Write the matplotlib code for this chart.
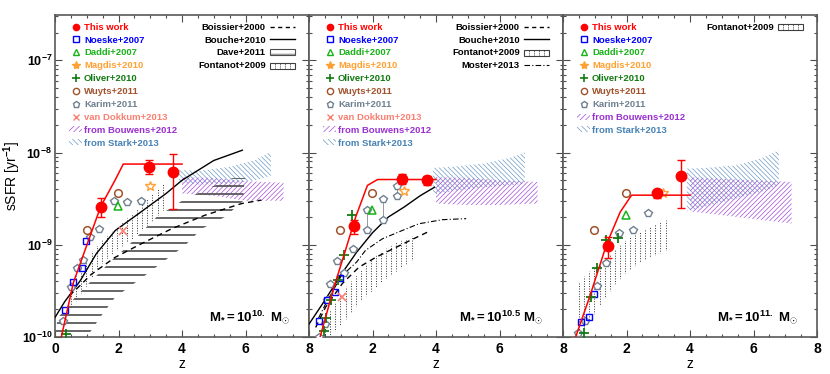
import numpy as np
import matplotlib
matplotlib.use('Agg')
import matplotlib.pyplot as plt
from matplotlib.lines import Line2D
from matplotlib.patches import Patch, Rectangle, Polygon
from matplotlib.legend_handler import HandlerBase
from matplotlib.ticker import MultipleLocator, LogLocator, NullFormatter, FuncFormatter

plt.rcParams['font.family'] = ['Liberation Sans', 'DejaVu Sans']
plt.rcParams['font.weight'] = 'bold'
plt.rcParams['mathtext.fontset'] = 'custom'
plt.rcParams['mathtext.rm'] = 'Liberation Sans:bold'
plt.rcParams['mathtext.bf'] = 'Liberation Sans:bold'
plt.rcParams['mathtext.it'] = 'Liberation Sans:bold'
plt.rcParams['hatch.linewidth'] = 0.5

# ---- data (one list per panel: 1e10, 1e10.5, 1e11 Msun) ----
work_z = [[1.44, 2.96, 3.71], [1.42, 2.94, 3.71], [1.43, 2.95, 3.71]]
work_s = [[2.6e-9, 7.0e-9, 6.1e-9], [1.6e-9, 5.2e-9, 5.0e-9], [9.8e-10, 3.6e-9, 5.5e-9]]
work_lo = [[2.0e-9, 5.9e-9, 2.46e-9], [1.3e-9, 4.6e-9, 4.4e-9], [7.2e-10, 3.25e-9, 2.5e-9]]
work_hi = [[3.2e-9, 8.4e-9, 9.6e-9], [1.85e-9, 5.9e-9, 5.6e-9], [1.2e-9, 3.9e-9, 8.4e-9]]

model_z = [[0.2, 0.58, 1.05, 1.44, 1.89, 2.15, 4.0],
           [0.35, 0.79, 1.10, 1.47, 1.84, 2.16, 4.0],
           [0.4, 0.85, 1.38, 1.8, 2.16, 4.0]]
model_s = [[1e-10, 3.9e-10, 1.1e-9, 2.6e-9, 5.0e-9, 7.5e-9, 7.5e-9],
           [1e-10, 3.5e-10, 7.7e-10, 2.0e-9, 4.4e-9, 5.1e-9, 5.1e-9],
           [1e-10, 2.8e-10, 1.03e-9, 2.26e-9, 3.45e-9, 3.45e-9]]

noeske_z = [[0.315, 0.58, 0.84, 0.976], [0.315, 0.556, 0.819, 0.976], [0.57, 0.83, 0.97]]
noeske_s = [[1.97e-10, 3.9e-10, 5.6e-10, 1.11e-9], [1.5e-10, 2.5e-10, 3.1e-10, 4.4e-10],
            [1.44e-10, 1.66e-10, 2.9e-10]]
daddi_z = [[1.99], [1.99], [1.98]]
daddi_s = [[2.65e-9], [2.36e-9], [2.08e-9]]
magdis_z = [[2.99], [2.99], [3.16]]
magdis_s = [[4.3e-9], [3.8e-9], [3.6e-9]]
oliver_z = [[0.35], [0.47, 0.52, 0.68, 0.92, 1.10, 1.34], [0.66, 0.89, 1.08, 1.34, 1.74]]
oliver_s = [[1.08e-10], [1.17e-10, 1.6e-10, 2.5e-10, 4.2e-10, 7.7e-10, 2.1e-9],
            [1.1e-10, 2.7e-10, 5.6e-10, 1.14e-9, 1.19e-9]]
wuyts_z = [[0.997, 1.99], [0.976, 1.99], [0.99, 1.98]]
wuyts_s = [[1.43e-9, 3.67e-9], [1.46e-9, 3.67e-9], [1.43e-9, 3.67e-9]]
karim_z = [[0.25, 0.49, 0.68, 0.89, 1.10, 1.40, 1.86, 2.26, 2.70],
           [0.3, 0.5, 0.56, 0.66, 0.87, 1.11, 1.38, 1.82, 1.82, 2.32, 2.32, 2.78, 2.78],
           [0.46, 0.70, 1.08, 1.35, 1.77, 2.22, 2.69]]
karim_s = [[1.5e-10, 3.47e-10, 5.6e-10, 6.9e-10, 1.21e-9, 1.49e-9, 2.98e-9, 2.88e-9, 2.98e-9],
           [1.0e-10, 1.4e-10, 2.5e-10, 3.8e-10, 6.6e-10, 5.0e-10, 9.0e-10, 1.43e-9, 2.4e-9,
            1.87e-9, 3.1e-9, 3.4e-9, 4.35e-9],
           [1.1e-10, 1.5e-10, 3.6e-10, 6.3e-10, 1.34e-9, 1.43e-9, 2.2e-9]]
vdokkum_z = [[2.15], [1.05], []]
vdokkum_s = [[1.4e-9], [2.7e-10], []]

bouche_z = [[0, 0.3, 0.8, 1.3, 1.9, 2.7, 3.5, 4.0, 5.0, 5.9],
            [0, 0.5, 1.0, 1.5, 2.0, 2.5, 3.0, 3.5, 3.95]]
bouche_s = [[1.63e-10, 2.4e-10, 4.1e-10, 8.0e-10, 1.43e-9, 2.26e-9, 3.6e-9, 5.0e-9, 8.2e-9, 1.06e-8],
            [1.38e-10, 2.5e-10, 4.7e-10, 8.3e-10, 1.35e-9, 2.0e-9, 2.57e-9, 3.4e-9, 4.2e-9]]
boissier_z = [[0.45, 0.63, 1.15, 1.89, 2.73, 3.67, 4.72, 5.88, 6.5],
              [0.21, 0.52, 1.05, 1.57, 2.1, 3.15, 3.73]]
boissier_s = [[2.8e-10, 3.2e-10, 4.8e-10, 7.3e-10, 1.03e-9, 1.49e-9, 2.09e-9, 2.8e-9, 3.05e-9],
              [1.27e-10, 2.1e-10, 3.8e-10, 5.7e-10, 7.3e-10, 1.1e-9, 1.37e-9]]
moster_z = [0.3, 0.5, 1.0, 1.5, 1.78, 2.31, 2.94, 3.46, 4.2, 4.95]
moster_s = [1.6e-10, 2.2e-10, 4.5e-10, 6.5e-10, 8.7e-10, 1.16e-9, 1.43e-9, 1.69e-9, 1.87e-9, 1.92e-9]

dave_s = [1.0e-10, 1.12e-10, 1.63e-10, 2.69e-10, 4.63e-10, 6.75e-10, 9.8e-10, 1.49e-9, 2.0e-9,
          3.0e-9, 4.2e-9, 5.3e-9]
dave_zlo = [0.0, 0.0, 0.1, 0.63, 1.31, 1.78, 2.31, 2.83, 3.2, 4.0, 4.9, 5.6]
dave_zhi = [1.0, 1.10, 1.42, 1.89, 2.83, 3.46, 4.09, 4.62, 5.35, 5.93, 5.95, 6.0]

fontanot_z = [[0.5, 1.0, 1.5, 2.0, 2.5, 3.0, 3.5],
              [0.4, 0.8, 1.2, 1.6, 2.0, 2.4, 2.8, 3.35],
              [0.4, 0.8, 1.2, 1.6, 2.0, 2.5, 3.0, 3.37]]
fontanot_lo = [[2.0e-10, 3.55e-10, 6.3e-10, 8.9e-10, 1.2e-9, 1.7e-9, 2.5e-9],
               [8.9e-11, 1.12e-10, 1.58e-10, 2.4e-10, 3.16e-10, 4.17e-10, 5.25e-10, 7.1e-10],
               [8.9e-11, 1.41e-10, 2.24e-10, 3.55e-10, 5.0e-10, 6.6e-10, 7.9e-10, 8.9e-10]]
fontanot_hi = [[3.55e-10, 7.1e-10, 1.12e-9, 1.58e-9, 2.24e-9, 3.3e-9, 4.8e-9],
               [1.41e-10, 2.24e-10, 3.55e-10, 5.0e-10, 7.1e-10, 8.9e-10, 1.07e-9, 1.26e-9],
               [3.55e-10, 5.0e-10, 6.3e-10, 8.5e-10, 1.12e-9, 1.41e-9, 1.7e-9, 1.9e-9]]

bouwens_z = [4.0, 5.0, 6.0, 7.2]
bouwens_lo = [[3.6e-9, 3.4e-9, 3.0e-9, 3.0e-9], [2.8e-9, 2.7e-9, 2.7e-9, 2.8e-9],
              [2.3e-9, 2.1e-9, 1.9e-9, 1.7e-9]]
bouwens_hi = [[5.4e-9, 5.3e-9, 4.9e-9, 4.7e-9], [5.4e-9, 5.3e-9, 5.0e-9, 4.8e-9],
              [5.4e-9, 5.2e-9, 5.0e-9, 4.8e-9]]
stark_z = [3.9, 4.5, 5.5, 6.3, 6.8]
stark_lo = [[4.8e-9, 4.5e-9, 4.6e-9, 5.0e-9, 5.6e-9], [3.5e-9, 3.8e-9, 4.2e-9, 4.4e-9, 4.6e-9],
            [2.3e-9, 2.6e-9, 3.2e-9, 3.8e-9, 4.4e-9]]
stark_hi = [[6.5e-9, 6.3e-9, 7.0e-9, 8.3e-9, 1.02e-8], [6.8e-9, 7.0e-9, 7.6e-9, 8.7e-9, 1.0e-8],
            [6.7e-9, 6.8e-9, 7.3e-9, 8.8e-9, 1.06e-8]]

mass_labels = [r'$\mathbf{M_{*}=10^{10.}\ M_{\odot}}$',
               r'$\mathbf{M_{*}=10^{10.5}\ M_{\odot}}$',
               r'$\mathbf{M_{*}=10^{11.}\ M_{\odot}}$']

c_work = 'red'
c_noeske = 'blue'
c_daddi = '#19b219'
c_magdis = '#ffa033'
c_oliver = '#127a12'
c_wuyts = '#a0522d'
c_karim = '#708090'
c_vd = '#fa8072'
c_bouw = '#9b30d0'
c_stark = '#4682b4'


class DotBox(HandlerBase):
    def create_artists(self, legend, orig, xd, yd, w, h, fontsize, trans):
        arts = [Rectangle((xd, yd), w, h, fc='white', ec='0.25', lw=0.8, transform=trans)]
        for f in (0.2, 0.4, 0.6, 0.8):
            arts.append(Line2D([xd + f * w] * 2, [yd, yd + h], ls=(0, (1, 1.2)), lw=0.7,
                               color='0.2', transform=trans))
        return arts


fig = plt.figure(figsize=(8.3, 3.74), dpi=100)
lefts = [55, 309, 563]

for i in range(3):
    ax = fig.add_axes([lefts[i] / 830, 37 / 374, 254 / 830, 322 / 374])
    ax.set_yscale('log')
    ax.set_xlim(0, 8)
    ax.set_ylim(1e-10, 3.1e-7)

    # shaded observational ranges
    ax.fill_between(stark_z, stark_lo[i], stark_hi[i], facecolor='none', edgecolor='#6f9cc4',
                    hatch='\\\\\\\\\\\\\\', lw=0, zorder=1)
    ax.fill_between(bouwens_z, bouwens_lo[i], bouwens_hi[i], facecolor='none', edgecolor='#a44fd8',
                    hatch='///////', lw=0, zorder=1)

    # Fontanot+2009 : dotted vertical lines
    fz = fontanot_z[i]
    verts = list(zip(fz, fontanot_lo[i])) + list(zip(fz[::-1], fontanot_hi[i][::-1]))
    poly = Polygon(verts, closed=True, fc='none', ec='none', transform=ax.transData)
    ax.add_patch(poly)
    vl = ax.vlines(np.arange(0.03, 8, 0.16), 1e-11, 1e-6, colors='0.2',
                   linestyles=[(0, (1, 1.6))], lw=0.7, zorder=2)
    vl.set_clip_path(poly)

    if i == 0:
        # Dave+2011 : horizontal lines
        verts = list(zip(dave_zlo, dave_s)) + list(zip(dave_zhi[::-1], dave_s[::-1]))
        dpoly = Polygon(verts, closed=True, fc='none', ec='none', transform=ax.transData)
        ax.add_patch(dpoly)
        hl = ax.hlines(10 ** np.arange(-10.02, -8.2, 0.087), 0, 8, colors='0.35', lw=1.3, zorder=2)
        hl.set_clip_path(dpoly)

    if i < 2:
        ax.plot(bouche_z[i], bouche_s[i], color='k', lw=1, zorder=3)
        ax.plot(boissier_z[i], boissier_s[i], color='k', lw=1, ls=(0, (4, 3)), zorder=3)
    if i == 1:
        ax.plot(moster_z, moster_s, color='k', lw=0.8, ls=(0, (5, 2, 1, 2)), zorder=3)

    # literature points
    kz = np.array(karim_z[i])
    ks = np.array(karim_s[i])
    for zz in np.unique(kz):
        sel = kz == zz
        if sel.sum() > 1:
            ax.plot([zz, zz], [ks[sel].min(), ks[sel].max()], color='0.6', lw=0.7, zorder=3)
    ax.plot(kz, ks, ls='none', marker='p', mfc='white', mec=c_karim, ms=5.5, mew=1, zorder=4)
    ax.plot(noeske_z[i], noeske_s[i], ls='none', marker='s', mfc='none', mec=c_noeske,
            ms=5, mew=1, zorder=4)
    ax.plot(daddi_z[i], daddi_s[i], ls='none', marker='^', mfc='none', mec=c_daddi,
            ms=5.5, mew=1.1, zorder=4)
    ax.plot(magdis_z[i], magdis_s[i], ls='none', marker='*', mfc='none', mec=c_magdis,
            ms=7, mew=1, zorder=4)
    ax.plot(oliver_z[i], oliver_s[i], ls='none', marker='+', color=c_oliver,
            ms=7, mew=1.3, zorder=4)
    ax.plot(wuyts_z[i], wuyts_s[i], ls='none', marker='o', mfc='none', mec=c_wuyts,
            ms=5.5, mew=1.1, zorder=4)
    if vdokkum_z[i]:
        ax.plot(vdokkum_z[i], vdokkum_s[i], ls='none', marker='x', color=c_vd,
                ms=6, mew=1.2, zorder=4)

    # this work
    ax.plot(model_z[i], model_s[i], color=c_work, lw=1.1, zorder=5)
    ws = np.array(work_s[i])
    yerr = [ws - np.array(work_lo[i]), np.array(work_hi[i]) - ws]
    ax.errorbar(work_z[i], ws, yerr=yerr, fmt='o', color=c_work, ms=7.5, capsize=3.2,
                elinewidth=1, capthick=1, zorder=6)

    ax.text(0.925, 0.062, mass_labels[i], transform=ax.transAxes, ha='right', va='center',
            fontsize=9.5)

    # axes styling
    ax.xaxis.set_major_locator(MultipleLocator(2))
    ax.xaxis.set_minor_locator(MultipleLocator(0.5))
    if i > 0:
        ax.xaxis.set_major_formatter(FuncFormatter(lambda v, p: '' if v == 0 else '%d' % v))
    ax.yaxis.set_major_locator(LogLocator(base=10))
    ax.yaxis.set_minor_locator(LogLocator(base=10, subs=np.arange(2, 10)))
    ax.yaxis.set_minor_formatter(NullFormatter())
    ax.tick_params(which='both', direction='in', top=True, right=True, width=0.8,
                   colors='0.3', labelcolor='k')
    ax.tick_params(axis='x', labelsize=10)
    ax.tick_params(axis='y', labelsize=9, pad=2)
    ax.tick_params(which='major', length=5)
    ax.tick_params(which='minor', length=2.5)
    if i > 0:
        ax.tick_params(labelleft=False)
    for sp in ax.spines.values():
        sp.set_color('0.35')
        sp.set_linewidth(1.2)
    ax.set_xlabel('z', fontsize=10)
    ax.xaxis.set_label_coords(0.5, -0.063)
    if i == 0:
        ax.set_ylabel('sSFR [yr$^{-1}$]', fontsize=10)
        ax.yaxis.set_label_coords(-0.125, 0.5)

    # left legend
    handles = [Line2D([], [], ls='none', marker='o', color=c_work, ms=4.5),
               Line2D([], [], ls='none', marker='s', mfc='none', mec=c_noeske, ms=4, mew=1),
               Line2D([], [], ls='none', marker='^', mfc='none', mec=c_daddi, ms=4.5, mew=1),
               Line2D([], [], ls='none', marker='*', color=c_magdis, ms=6),
               Line2D([], [], ls='none', marker='+', color=c_oliver, ms=6, mew=1.2),
               Line2D([], [], ls='none', marker='o', mfc='none', mec=c_wuyts, ms=4.5, mew=1),
               Line2D([], [], ls='none', marker='p', mfc='none', mec=c_karim, ms=4.5, mew=1)]
    labels = ['This work', 'Noeske+2007', 'Daddi+2007', 'Magdis+2010', 'Oliver+2010',
              'Wuyts+2011', 'Karim+2011']
    colors = [c_work, c_noeske, c_daddi, c_magdis, c_oliver, c_wuyts, c_karim]
    if i < 2:
        handles.append(Line2D([], [], ls='none', marker='x', color=c_vd, ms=4, mew=1))
        labels.append('van Dokkum+2013')
        colors.append(c_vd)
    handles += [Patch(facecolor='none', edgecolor='#a44fd8', hatch='//////', lw=0),
                Patch(facecolor='none', edgecolor='#6f9cc4', hatch='\\\\\\\\\\\\', lw=0)]
    labels += ['from Bouwens+2012', 'from Stark+2013']
    colors += [c_bouw, c_stark]
    leg = ax.legend(handles, labels, loc='upper left', bbox_to_anchor=(14 / 254, 0.976),
                    fontsize=6.8, frameon=False, handlelength=1.4, handletextpad=0.2,
                    labelspacing=0.41, borderaxespad=0, borderpad=0, handleheight=0.6)
    for t, c in zip(leg.get_texts(), colors):
        t.set_color(c)
    ax.add_artist(leg)

    # right legend (models)
    fbox = Patch(facecolor='white', edgecolor='0.25')
    h_boiss = Line2D([], [], color='k', lw=1, ls=(0, (3, 2.5)))
    h_bouche = Line2D([], [], color='k', lw=1)
    h_dave = Patch(facecolor='white', edgecolor='0.3', hatch='--', lw=0.8)
    h_moster = Line2D([], [], color='k', lw=0.8, ls=(0, (5, 2, 1, 2)))
    if i == 0:
        rh = [h_boiss, h_bouche, h_dave, fbox]
        rl = ['Boissier+2000', 'Bouche+2010', 'Dave+2011', 'Fontanot+2009']
    elif i == 1:
        rh = [h_boiss, h_bouche, fbox, h_moster]
        rl = ['Boissier+2000', 'Bouche+2010', 'Fontanot+2009', 'Moster+2013']
    else:
        rh = [fbox]
        rl = ['Fontanot+2009']
    ax.legend(rh, rl, loc='upper right', bbox_to_anchor=(1 - 14 / 254, 0.976), fontsize=6.8,
              frameon=False, markerfirst=False, handlelength=2.6, handletextpad=0.5,
              labelspacing=0.41, borderaxespad=0, borderpad=0, handleheight=0.6,
              handler_map={fbox: DotBox()})

fig.savefig('out.png', dpi=100)
